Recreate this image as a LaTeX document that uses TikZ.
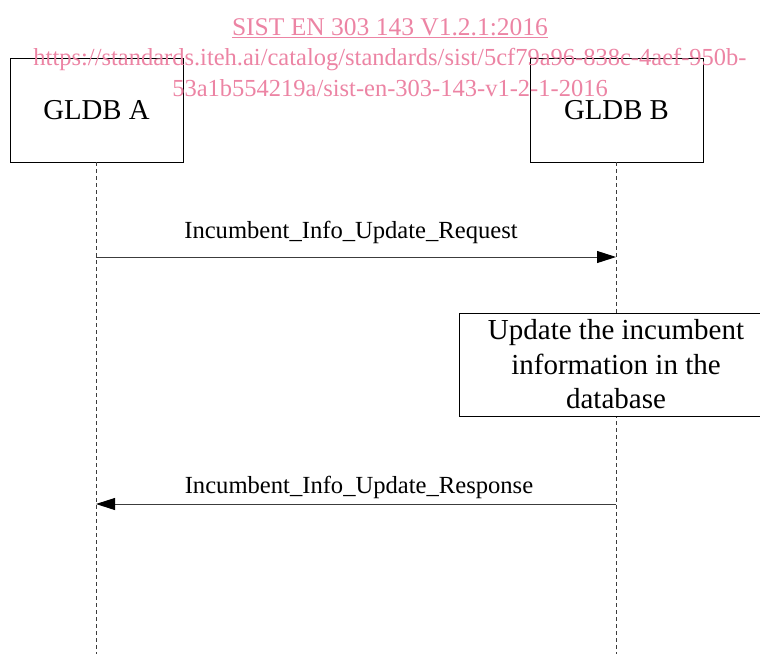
\documentclass[tikz,border=0pt]{standalone}
\usepackage{fontspec}
\setmainfont{Liberation Serif}
\usetikzlibrary{arrows.meta}
\definecolor{wmpink}{RGB}{236,132,164}
\definecolor{msgline}{RGB}{60,60,60}
\tikzset{
  entity/.style={draw=black, line width=0.9pt, minimum width=173pt, minimum height=104pt,
    inner sep=0pt, font=\fontsize{28.8}{32}\selectfont},
  lifeline/.style={draw=msgline, line width=0.8pt, dash pattern=on 4pt off 3pt},
  msg/.style={draw=msgline, line width=0.9pt, -{Triangle[length=19pt,width=12pt,color=black]}},
  msglabel/.style={anchor=base, inner sep=0pt, font=\fontsize{24.6}{28}\selectfont},
  action/.style={draw=black, line width=0.9pt, fill=white, minimum width=314pt, minimum height=103pt,
    inner sep=0pt, align=center, font=\fontsize{29}{34.5}\selectfont},
  wmark/.style={anchor=base, inner sep=0pt, text=wmpink, font=\fontsize{25.5}{28}\selectfont},
  wmurl/.style={wmark, font=\fontsize{24.5}{28}\selectfont}
}
\begin{document}
\begin{tikzpicture}[x=1pt, y=-1pt]
  \useasboundingbox (0,0) rectangle (760,654);
  \clip (0,0) rectangle (760,654);

  % participants
  \node[entity] (gA) at (96.5,110) {GLDB A};
  \node[entity] (gB) at (616.5,110) {GLDB B};

  % lifeline ends
  \coordinate (aEnd) at (96,654);
  \coordinate (bEnd) at (616,654);
  \draw[lifeline] (gA.south -| aEnd) -- (aEnd);
  \draw[lifeline] (gB.south -| bEnd) -- (bEnd);

  % request message
  \coordinate (reqA) at (96,257);
  \coordinate (reqB) at (616,257);
  \draw[msg] (reqA) -- (reqB);
  \node[msglabel] (reqL) at (351,238) {Incumbent\_Info\_Update\_Request};

  % local action at GLDB B
  \node[action] (upd) at (616,364.5) {Update the incumbent\\information in the\\database};

  % response message
  \coordinate (rspB) at (616,504);
  \coordinate (rspA) at (96,504);
  \draw[msg] (rspB) -- (rspA);
  \node[msglabel] (rspL) at (359,493) {Incumbent\_Info\_Update\_Response};

  % document reference header
  \node[wmark] (wm1) at (390,35) {\underline{SIST EN 303 143 V1.2.1:2016}};
  \node[wmurl] (wm2) at (390,65) {https://standards.iteh.ai/catalog/standards/sist/5cf79a96-838c-4aef-950b-};
  \node[wmurl] (wm3) at (390,96) {53a1b554219a/sist-en-303-143-v1-2-1-2016};
\end{tikzpicture}
\end{document}
